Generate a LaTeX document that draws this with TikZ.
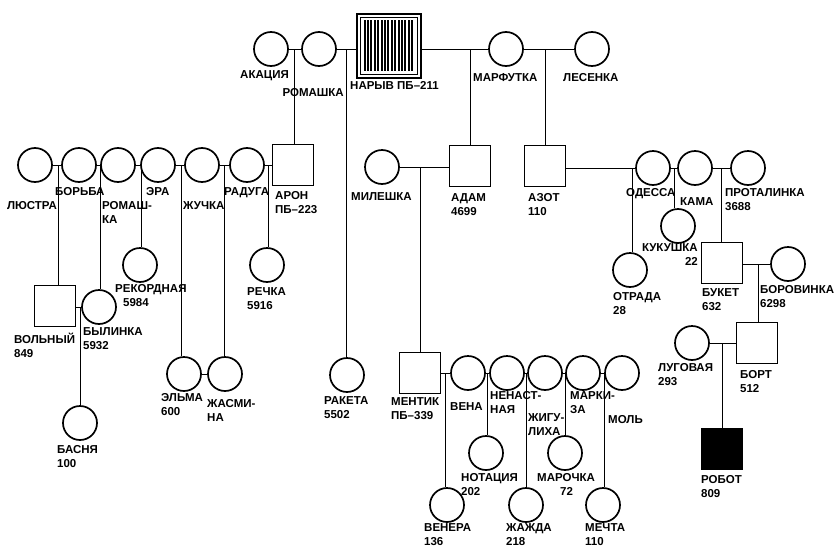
\documentclass[tikz,border=0pt]{standalone}
\usepackage{fontspec}
\setmainfont{Liberation Sans}
\usetikzlibrary{calc}
\begin{document}
\begin{tikzpicture}[x=1pt,y=-1pt,
  fem/.style={circle,draw,line width=1.7pt,minimum size=34pt,inner sep=0pt},
  mal/.style={rectangle,draw,line width=1.7pt,minimum size=41pt,inner sep=0pt},
  lnk/.style={line width=1pt},
  lab/.style={anchor=north west,inner sep=0pt,align=left,font=\bfseries\fontsize{11.5}{14}\selectfont},
  labr/.style={lab,anchor=north east,align=right}]
\useasboundingbox (0,0) rectangle (835,549);
% ---- generation 1
\node[fem] (akac) at (271,49) {};
\node[fem] (rom1) at (319,49) {};
\node[rectangle,draw,line width=1.8pt,minimum size=64pt,inner sep=0pt] (nar) at (389,46) {};
\node[fem] (marf) at (506,49) {};
\node[fem] (les) at (592,49) {};
\draw[line width=1pt] ($(nar.north west)+(4,4)$) rectangle ($(nar.south east)+(-4,-4)$);
\foreach \i in {0,...,14} \draw[line width=1.9pt] ($(nar.north west)+(8.5+\i*3.4,7)$) -- ($(nar.north west)+(8.5+\i*3.4,58)$);
% ---- generation 2
\node[fem] (lus) at (35,165) {};
\node[fem] (bor) at (79,165) {};
\node[fem] (rom2) at (118,165) {};
\node[fem] (era) at (158,165) {};
\node[fem] (zhu) at (202,165) {};
\node[fem] (rad) at (247,165) {};
\node[mal] (aron) at (293,165) {};
\node[fem] (mil) at (382,167) {};
\node[mal] (adam) at (470,166) {};
\node[mal] (azot) at (545,166) {};
\node[fem] (ode) at (653,168) {};
\node[fem] (kama) at (695,168) {};
\node[fem] (prot) at (748,168) {};
\node[fem] (kuk) at (678,226) {};
\node[fem] (otr) at (630,270) {};
\node[mal] (buk) at (722,263) {};
\node[fem] (borv) at (788,264) {};
\node[fem] (lug) at (692,343) {};
\node[mal] (bort) at (757,343) {};
\node[mal,fill=black] (robot) at (722,449) {};
\node[mal] (vol) at (55,306) {};
\node[fem] (byl) at (99,307) {};
\node[fem] (bas) at (80,423) {};
\node[fem] (rek) at (140,265) {};
\node[fem] (rech) at (267,265) {};
\node[fem] (elma) at (184,374) {};
\node[fem] (zhas) at (225,374) {};
\node[fem] (rak) at (347,375) {};
\node[mal] (ment) at (420,373) {};
\node[fem] (vena) at (468,373) {};
\node[fem] (nen) at (507,373) {};
\node[fem] (zhig) at (545,373) {};
\node[fem] (mark) at (583,373) {};
\node[fem] (mol) at (622,373) {};
\node[fem] (venera) at (447,505) {};
\node[fem] (not) at (486,453) {};
\node[fem] (zhaz) at (526,505) {};
\node[fem] (maro) at (565,453) {};
\node[fem] (mech) at (603,505) {};
% ---- drop points
\coordinate (c1) at (294,49); \coordinate (c2) at (346,49);
\coordinate (c3) at (470,49); \coordinate (c4) at (545,49);
\coordinate (d1) at (58,165); \coordinate (d2) at (100,165); \coordinate (d3) at (141,165);
\coordinate (d4) at (181,165); \coordinate (d5) at (224,165); \coordinate (d6) at (268,165);
\coordinate (e1) at (420,167); \coordinate (e2) at (632,168); \coordinate (e3) at (674,168);
\coordinate (e4) at (721,168); \coordinate (f1) at (758,264); \coordinate (f2) at (722,343);
\coordinate (g1) at (80,307);
\coordinate (h1) at (445,373); \coordinate (h2) at (487,373); \coordinate (h3) at (526,373);
\coordinate (h4) at (565,373); \coordinate (h5) at (604,373);
% ---- mating lines
\draw[lnk] (akac.east) -- (rom1.west);
\draw[lnk] (rom1.east) -- (rom1.east -| nar.west);
\draw[lnk] (marf.west -| nar.east) -- (marf.west);
\draw[lnk] (marf.east) -- (les.west);
\draw[lnk] (lus.east) -- (bor.west);
\draw[lnk] (bor.east) -- (rom2.west);
\draw[lnk] (rom2.east) -- (era.west);
\draw[lnk] (era.east) -- (zhu.west);
\draw[lnk] (zhu.east) -- (rad.west);
\draw[lnk] (rad.east) -- (rad.east -| aron.west);
\draw[lnk] (mil.east) -- (mil.east -| adam.west);
\draw[lnk] (ode.west -| azot.east) -- (ode.west);
\draw[lnk] (ode.east) -- (kama.west);
\draw[lnk] (kama.east) -- (prot.west);
\draw[lnk] (borv.west -| buk.east) -- (borv.west);
\draw[lnk] (lug.east) -- (lug.east -| bort.west);
\draw[lnk] (byl.west -| vol.east) -- (byl.west);
\draw[lnk] (elma.east) -- (zhas.west);
\draw[lnk] (vena.west -| ment.east) -- (vena.west);
\draw[lnk] (vena.east) -- (nen.west);
\draw[lnk] (nen.east) -- (zhig.west);
\draw[lnk] (zhig.east) -- (mark.west);
\draw[lnk] (mark.east) -- (mol.west);
% ---- descent lines
\draw[lnk] (c1) -- (c1 |- aron.north);
\draw[lnk] (c2) -- (c2 |- rak.north);
\draw[lnk] (c3) -- (c3 |- adam.north);
\draw[lnk] (c4) -- (c4 |- azot.north);
\draw[lnk] (d1) -- (d1 |- vol.north);
\draw[lnk] (d2) -- (d2 |- byl.north);
\draw[lnk] (d3) -- (d3 |- rek.north);
\draw[lnk] (d4) -- (d4 |- elma.north);
\draw[lnk] (d5) -- (d5 |- zhas.north);
\draw[lnk] (d6) -- (d6 |- rech.north);
\draw[lnk] (e1) -- (e1 |- ment.north);
\draw[lnk] (e2) -- (e2 |- otr.north);
\draw[lnk] (e3) -- (e3 |- kuk.north);
\draw[lnk] (e4) -- (e4 |- buk.north);
\draw[lnk] (f1) -- (f1 |- bort.north);
\draw[lnk] (f2) -- (f2 |- robot.north);
\draw[lnk] (g1) -- (g1 |- bas.north);
\draw[lnk] (h1) -- (h1 |- venera.north);
\draw[lnk] (h2) -- (h2 |- not.north);
\draw[lnk] (h3) -- (h3 |- zhaz.north);
\draw[lnk] (h4) -- (h4 |- maro.north);
\draw[lnk] (h5) -- (h5 |- mech.north);
% ---- labels
\node[labr] (l-akac) at (289,70) {АКАЦИЯ};
\node[labr] (l-rom1) at (344,88) {РОМАШКА};
\node[lab] (l-nar) at (350,81) {НАРЫВ ПБ–211};
\node[lab] (l-marf) at (473,73) {МАРФУТКА};
\node[lab] (l-les) at (563,73) {ЛЕСЕНКА};
\node[labr] (l-lus) at (57,201) {ЛЮСТРА};
\node[lab] (l-bor) at (55,187) {БОРЬБА};
\node[lab] (l-rom2) at (102,201) {РОМАШ-\\КА};
\node[lab] (l-era) at (146,187) {ЭРА};
\node[lab] (l-zhu) at (183,201) {ЖУЧКА};
\node[lab] (l-rad) at (224,187) {РАДУГА};
\node[lab] (l-aron) at (275,191) {АРОН\\ПБ–223};
\node[lab] (l-mil) at (351,192) {МИЛЕШКА};
\node[lab] (l-adam) at (451,193) {АДАМ\\4699};
\node[lab] (l-azot) at (528,193) {АЗОТ\\110};
\node[lab] (l-ode) at (626,188) {ОДЕССА};
\node[lab] (l-kama) at (680,197) {КАМА};
\node[lab] (l-prot) at (725,188) {ПРОТАЛИНКА\\3688};
\node[labr] (l-kuk) at (698,243) {КУКУШКА\\22};
\node[lab] (l-otr) at (613,292) {ОТРАДА\\28};
\node[lab] (l-buk) at (702,288) {БУКЕТ\\632};
\node[lab] (l-borv) at (760,285) {БОРОВИНКА\\6298};
\node[lab] (l-rek) at (115,284) {РЕКОРДНАЯ\\\hspace*{8pt}5984};
\node[lab] (l-rech) at (247,287) {РЕЧКА\\5916};
\node[lab] (l-vol) at (14,333) {ВОЛЬНЫЙ\\849};
\node[lab] (l-byl) at (83,327) {БЫЛИНКА\\5932};
\node[lab] (l-elma) at (161,393) {ЭЛЬМА\\600};
\node[lab] (l-zhas) at (207,399) {ЖАСМИ-\\НА};
\node[lab] (l-bas) at (57,445) {БАСНЯ\\100};
\node[lab] (l-rak) at (324,396) {РАКЕТА\\5502};
\node[lab] (l-ment) at (391,397) {МЕНТИК\\ПБ–339};
\node[lab] (l-vena) at (450,402) {ВЕНА};
\node[lab] (l-nen) at (490,391) {НЕНАСТ-\\НАЯ};
\node[lab] (l-zhig) at (528,413) {ЖИГУ-\\ЛИХА};
\node[lab] (l-mark) at (570,391) {МАРКИ-\\ЗА};
\node[lab] (l-mol) at (608,415) {МОЛЬ};
\node[lab] (l-not) at (461,473) {НОТАЦИЯ\\202};
\node[lab] (l-maro) at (537,473) {МАРОЧКА\\\hspace*{23pt}72};
\node[lab] (l-venera) at (424,523) {ВЕНЕРА\\136};
\node[lab] (l-zhaz) at (506,523) {ЖАЖДА\\218};
\node[lab] (l-mech) at (585,523) {МЕЧТА\\110};
\node[lab] (l-lug) at (658,363) {ЛУГОВАЯ\\293};
\node[lab] (l-bort) at (740,370) {БОРТ\\512};
\node[lab] (l-robot) at (701,475) {РОБОТ\\809};
\end{tikzpicture}
\end{document}
